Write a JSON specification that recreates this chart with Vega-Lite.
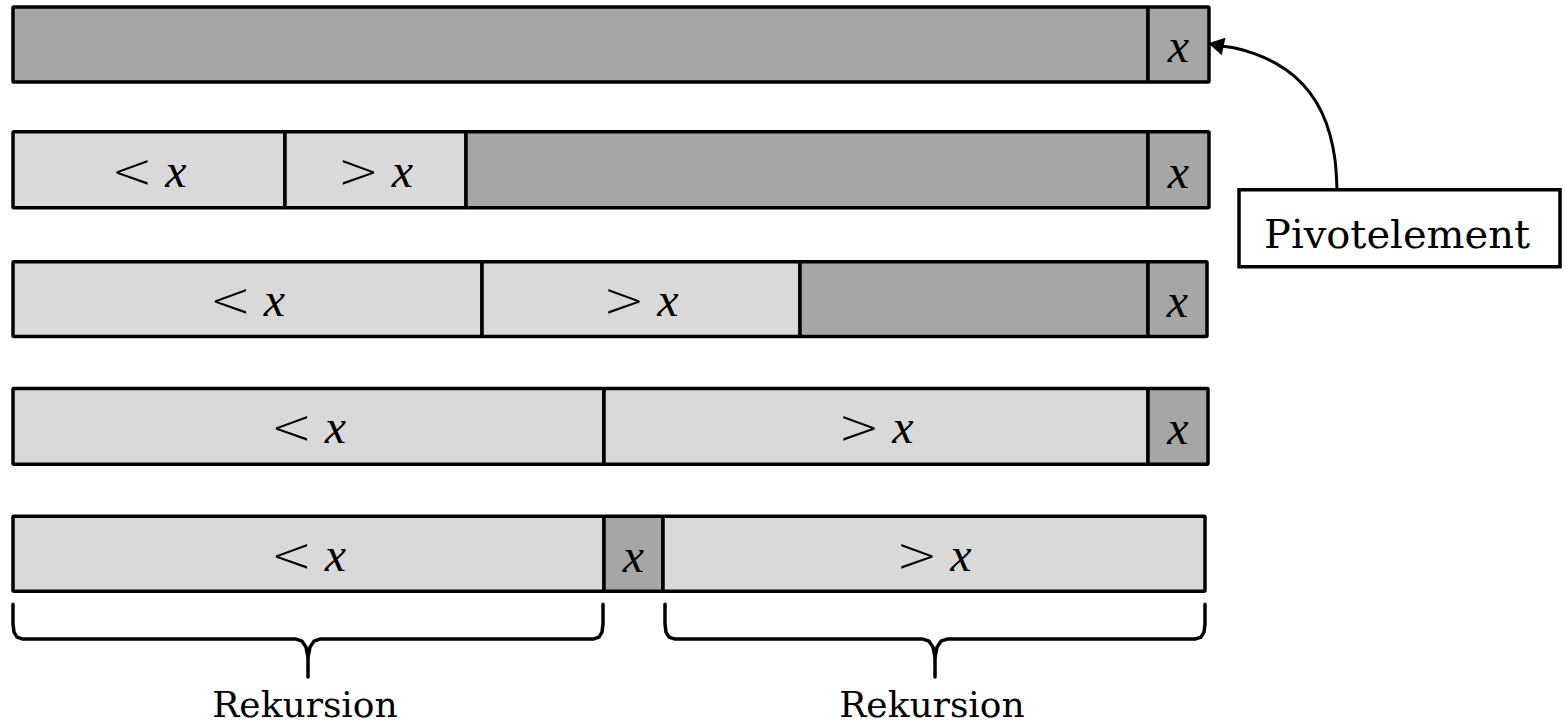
{
  "$schema": "https://vega.github.io/schema/vega-lite/v6.json",
  "width": 1566,
  "height": 724,
  "autosize": {"type": "fit", "contains": "padding"},
  "padding": 0,
  "background": "white",
  "config": {"view": {"stroke": null}},
  "datasets": {
    "cells": [
      {"row": 1, "x0": 13, "x1": 1148, "y0": 7, "y1": 82, "kind": "dark", "sym": "", "hasx": false},
      {"row": 1, "x0": 1148, "x1": 1209, "y0": 7, "y1": 82, "kind": "dark", "sym": "", "hasx": true},
      {"row": 2, "x0": 13, "x1": 285, "y0": 132, "y1": 208, "kind": "light", "sym": "<", "hasx": true},
      {"row": 2, "x0": 285, "x1": 466, "y0": 132, "y1": 208, "kind": "light", "sym": ">", "hasx": true},
      {"row": 2, "x0": 466, "x1": 1148, "y0": 132, "y1": 208, "kind": "dark", "sym": "", "hasx": false},
      {"row": 2, "x0": 1148, "x1": 1209, "y0": 132, "y1": 208, "kind": "dark", "sym": "", "hasx": true},
      {"row": 3, "x0": 13, "x1": 482, "y0": 262, "y1": 337, "kind": "light", "sym": "<", "hasx": true},
      {"row": 3, "x0": 482, "x1": 800, "y0": 262, "y1": 337, "kind": "light", "sym": ">", "hasx": true},
      {"row": 3, "x0": 800, "x1": 1148, "y0": 262, "y1": 337, "kind": "dark", "sym": "", "hasx": false},
      {"row": 3, "x0": 1148, "x1": 1207, "y0": 262, "y1": 337, "kind": "dark", "sym": "", "hasx": true},
      {"row": 4, "x0": 13, "x1": 604, "y0": 389, "y1": 465, "kind": "light", "sym": "<", "hasx": true},
      {"row": 4, "x0": 604, "x1": 1148, "y0": 389, "y1": 465, "kind": "light", "sym": ">", "hasx": true},
      {"row": 4, "x0": 1148, "x1": 1208, "y0": 389, "y1": 465, "kind": "dark", "sym": "", "hasx": true},
      {"row": 5, "x0": 13, "x1": 604, "y0": 517, "y1": 592, "kind": "light", "sym": "<", "hasx": true},
      {"row": 5, "x0": 604, "x1": 663, "y0": 517, "y1": 592, "kind": "dark", "sym": "", "hasx": true},
      {"row": 5, "x0": 663, "x1": 1205, "y0": 517, "y1": 592, "kind": "light", "sym": ">", "hasx": true}
    ],
    "braces": [
      {"seg": "La", "i": 1, "x": 13, "y": 605}, {"seg": "La", "i": 2, "x": 13, "y": 625}, {"seg": "La", "i": 3, "x": 14, "y": 633}, {"seg": "La", "i": 4, "x": 17, "y": 638}, {"seg": "La", "i": 5, "x": 23, "y": 640}, {"seg": "La", "i": 6, "x": 296, "y": 640}, {"seg": "La", "i": 7, "x": 302, "y": 642}, {"seg": "La", "i": 8, "x": 306, "y": 648}, {"seg": "La", "i": 9, "x": 308, "y": 658}, {"seg": "La", "i": 10, "x": 308, "y": 678},
      {"seg": "Lb", "i": 1, "x": 308, "y": 658}, {"seg": "Lb", "i": 2, "x": 310, "y": 648}, {"seg": "Lb", "i": 3, "x": 314, "y": 642}, {"seg": "Lb", "i": 4, "x": 320, "y": 640}, {"seg": "Lb", "i": 5, "x": 593, "y": 640}, {"seg": "Lb", "i": 6, "x": 599, "y": 638}, {"seg": "Lb", "i": 7, "x": 602, "y": 633}, {"seg": "Lb", "i": 8, "x": 603, "y": 625}, {"seg": "Lb", "i": 9, "x": 603, "y": 605},
      {"seg": "Ra", "i": 1, "x": 665, "y": 605}, {"seg": "Ra", "i": 2, "x": 665, "y": 625}, {"seg": "Ra", "i": 3, "x": 666, "y": 633}, {"seg": "Ra", "i": 4, "x": 669, "y": 638}, {"seg": "Ra", "i": 5, "x": 675, "y": 640}, {"seg": "Ra", "i": 6, "x": 923, "y": 640}, {"seg": "Ra", "i": 7, "x": 929, "y": 642}, {"seg": "Ra", "i": 8, "x": 933, "y": 648}, {"seg": "Ra", "i": 9, "x": 935, "y": 658}, {"seg": "Ra", "i": 10, "x": 935, "y": 678},
      {"seg": "Rb", "i": 1, "x": 935, "y": 658}, {"seg": "Rb", "i": 2, "x": 937, "y": 648}, {"seg": "Rb", "i": 3, "x": 941, "y": 642}, {"seg": "Rb", "i": 4, "x": 947, "y": 640}, {"seg": "Rb", "i": 5, "x": 1195, "y": 640}, {"seg": "Rb", "i": 6, "x": 1201, "y": 638}, {"seg": "Rb", "i": 7, "x": 1204, "y": 633}, {"seg": "Rb", "i": 8, "x": 1205, "y": 625}, {"seg": "Rb", "i": 9, "x": 1205, "y": 605}
    ],
    "arrow": [
      {"i": 1, "x": 1337, "y": 190}, {"i": 2, "x": 1335, "y": 160}, {"i": 3, "x": 1330, "y": 135}, {"i": 4, "x": 1322, "y": 113}, {"i": 5, "x": 1310, "y": 93}, {"i": 6, "x": 1294, "y": 76}, {"i": 7, "x": 1275, "y": 63}, {"i": 8, "x": 1255, "y": 54}, {"i": 9, "x": 1235, "y": 48}, {"i": 10, "x": 1220, "y": 46}
    ],
    "head": [{"x": 1216, "y": 45}],
    "box": [{"x0": 1239, "x1": 1560, "y0": 190, "y1": 267, "label": "Pivotelement", "tx": 1397, "ty": 248}],
    "labels": [{"x": 305, "y": 718, "label": "Rekursion"}, {"x": 932, "y": 718, "label": "Rekursion"}]
  },
  "layer": [
    {
      "data": {"name": "cells"},
      "mark": {"type": "rect", "stroke": "black", "strokeWidth": 3.5, "cornerRadius": 1},
      "encoding": {
        "x": {"field": "x0", "type": "quantitative", "scale": {"domain": [0, 1566], "nice": false, "zero": false}, "axis": null},
        "x2": {"field": "x1"},
        "y": {"field": "y0", "type": "quantitative", "scale": {"domain": [0, 724], "nice": false, "zero": false, "reverse": true}, "axis": null},
        "y2": {"field": "y1"},
        "fill": {"field": "kind", "type": "nominal", "scale": {"domain": ["dark", "light"], "range": ["#a6a6a6", "#d9d9d9"]}, "legend": null}
      }
    },
    {
      "data": {"name": "cells"},
      "transform": [{"filter": "datum.sym != ''"}, {"calculate": "(datum.x0 + datum.x1) / 2", "as": "xm"}, {"calculate": "(datum.y0 + datum.y1) / 2", "as": "ym"}],
      "mark": {"type": "text", "font": "DejaVu Sans", "fontWeight": 300, "fontSize": 50, "baseline": "alphabetic", "align": "center", "dx": -17, "dy": 18, "color": "black"},
      "encoding": {
        "x": {"field": "xm", "type": "quantitative", "scale": {"domain": [0, 1566], "nice": false, "zero": false}, "axis": null},
        "y": {"field": "ym", "type": "quantitative", "scale": {"domain": [0, 724], "nice": false, "zero": false, "reverse": true}, "axis": null},
        "text": {"field": "sym"}
      }
    },
    {
      "data": {"name": "cells"},
      "transform": [{"filter": "datum.sym != ''"}, {"calculate": "(datum.x0 + datum.x1) / 2", "as": "xm"}, {"calculate": "(datum.y0 + datum.y1) / 2", "as": "ym"}],
      "mark": {"type": "text", "font": "Liberation Serif", "fontStyle": "italic", "fontSize": 48, "baseline": "alphabetic", "align": "center", "dx": 27, "dy": 17, "color": "black", "text": "x"},
      "encoding": {
        "x": {"field": "xm", "type": "quantitative", "scale": {"domain": [0, 1566], "nice": false, "zero": false}, "axis": null},
        "y": {"field": "ym", "type": "quantitative", "scale": {"domain": [0, 724], "nice": false, "zero": false, "reverse": true}, "axis": null}
      }
    },
    {
      "data": {"name": "cells"},
      "transform": [{"filter": "datum.sym == '' && datum.hasx"}, {"calculate": "(datum.x0 + datum.x1) / 2", "as": "xm"}, {"calculate": "(datum.y0 + datum.y1) / 2", "as": "ym"}],
      "mark": {"type": "text", "font": "Liberation Serif", "fontStyle": "italic", "fontSize": 48, "baseline": "alphabetic", "align": "center", "dy": 18, "color": "black", "text": "x"},
      "encoding": {
        "x": {"field": "xm", "type": "quantitative", "scale": {"domain": [0, 1566], "nice": false, "zero": false}, "axis": null},
        "y": {"field": "ym", "type": "quantitative", "scale": {"domain": [0, 724], "nice": false, "zero": false, "reverse": true}, "axis": null}
      }
    },
    {
      "data": {"name": "braces"},
      "mark": {"type": "line", "color": "black", "strokeWidth": 3.5, "strokeCap": "round", "strokeJoin": "round"},
      "encoding": {
        "x": {"field": "x", "type": "quantitative", "scale": {"domain": [0, 1566], "nice": false, "zero": false}, "axis": null},
        "y": {"field": "y", "type": "quantitative", "scale": {"domain": [0, 724], "nice": false, "zero": false, "reverse": true}, "axis": null},
        "detail": {"field": "seg", "type": "nominal"},
        "order": {"field": "i", "type": "quantitative"}
      }
    },
    {
      "data": {"name": "arrow"},
      "mark": {"type": "line", "color": "black", "strokeWidth": 3, "interpolate": "catmull-rom"},
      "encoding": {
        "x": {"field": "x", "type": "quantitative", "scale": {"domain": [0, 1566], "nice": false, "zero": false}, "axis": null},
        "y": {"field": "y", "type": "quantitative", "scale": {"domain": [0, 724], "nice": false, "zero": false, "reverse": true}, "axis": null},
        "order": {"field": "i", "type": "quantitative"}
      }
    },
    {
      "data": {"name": "head"},
      "mark": {"type": "point", "shape": "triangle-left", "size": 320, "filled": true, "color": "black", "opacity": 1, "angle": 12},
      "encoding": {
        "x": {"field": "x", "type": "quantitative", "scale": {"domain": [0, 1566], "nice": false, "zero": false}, "axis": null},
        "y": {"field": "y", "type": "quantitative", "scale": {"domain": [0, 724], "nice": false, "zero": false, "reverse": true}, "axis": null}
      }
    },
    {
      "data": {"name": "box"},
      "mark": {"type": "rect", "fill": "white", "stroke": "black", "strokeWidth": 3.5},
      "encoding": {
        "x": {"field": "x0", "type": "quantitative", "scale": {"domain": [0, 1566], "nice": false, "zero": false}, "axis": null},
        "x2": {"field": "x1"},
        "y": {"field": "y0", "type": "quantitative", "scale": {"domain": [0, 724], "nice": false, "zero": false, "reverse": true}, "axis": null},
        "y2": {"field": "y1"}
      }
    },
    {
      "data": {"name": "box"},
      "mark": {"type": "text", "font": "DejaVu Serif", "fontSize": 40, "baseline": "alphabetic", "align": "center", "color": "black"},
      "encoding": {
        "x": {"field": "tx", "type": "quantitative", "scale": {"domain": [0, 1566], "nice": false, "zero": false}, "axis": null},
        "y": {"field": "ty", "type": "quantitative", "scale": {"domain": [0, 724], "nice": false, "zero": false, "reverse": true}, "axis": null},
        "text": {"field": "label"}
      }
    },
    {
      "data": {"name": "labels"},
      "mark": {"type": "text", "font": "DejaVu Serif", "fontSize": 36, "baseline": "alphabetic", "align": "center", "color": "black"},
      "encoding": {
        "x": {"field": "x", "type": "quantitative", "scale": {"domain": [0, 1566], "nice": false, "zero": false}, "axis": null},
        "y": {"field": "y", "type": "quantitative", "scale": {"domain": [0, 724], "nice": false, "zero": false, "reverse": true}, "axis": null},
        "text": {"field": "label"}
      }
    }
  ]
}
